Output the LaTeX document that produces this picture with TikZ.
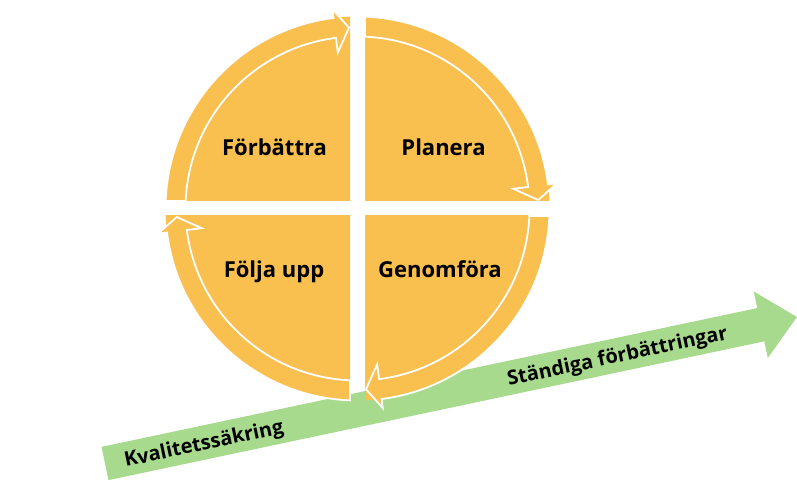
\documentclass[tikz,border=0pt]{standalone}
\usepackage{fontspec}
\setmainfont{Open Sans}
\usetikzlibrary{calc}
\definecolor{qorange}{RGB}{249,191,79}
\definecolor{qgreen}{RGB}{168,218,142}
\tikzset{
  quad/.style={fill=qorange},
  cyc/.style={fill=qorange, draw=white, line width=1.8pt, line join=miter},
  lbl/.style={font=\bfseries\fontsize{22}{26}\selectfont, text=black, inner sep=0pt, anchor=base},
  glbl/.style={font=\bfseries\fontsize{20}{24}\selectfont, text=black, inner sep=0pt, anchor=base, transform shape},
}
\begin{document}
\begin{tikzpicture}[x=1pt,y=1pt]
\useasboundingbox (0,0) rectangle (797,494);
% green arrow
\begin{scope}[shift={(105,30.5)}, rotate=11.95]
  \fill[qgreen] (0,-17) -- (670.3,-17) -- (670.3,-34) -- (707.3,0) -- (670.3,34) -- (670.3,17) -- (0,17) -- cycle;
  \node[glbl] (kv) at (100.7,-7.5) {Kvalitetssäkring};
  \node[glbl] (st) at (523.5,-7.5) {Ständiga förbättringar};
\end{scope}
% cycle
\coordinate (C) at (357.5,285.5);
\begin{scope}[shift={(C)}]
\foreach \k in {0,1,2,3} {
  \begin{scope}[rotate=-90*\k]
    \begin{scope}
      \clip (-7.5,7.5) rectangle (-200,200);
      \fill[quad] (0,0) circle[radius=192];
    \end{scope}
    \filldraw[cyc] (177.76:192) arc[start angle=177.76, end angle=97.2, radius=192]
      -- (97.2:201) -- (92.7:181) -- (97.2:157) -- (97.2:172)
      arc[start angle=97.2, end angle=177.5, radius=172] -- cycle;
  \end{scope}
}
\end{scope}
\node[lbl] (fb) at (274.5,338) {Förbättra};
\node[lbl] (pl) at (443.5,338) {Planera};
\node[lbl] (fu) at (274,216) {Följa upp};
\node[lbl] (gf) at (440,216) {Genomföra};
\end{tikzpicture}
\end{document}
